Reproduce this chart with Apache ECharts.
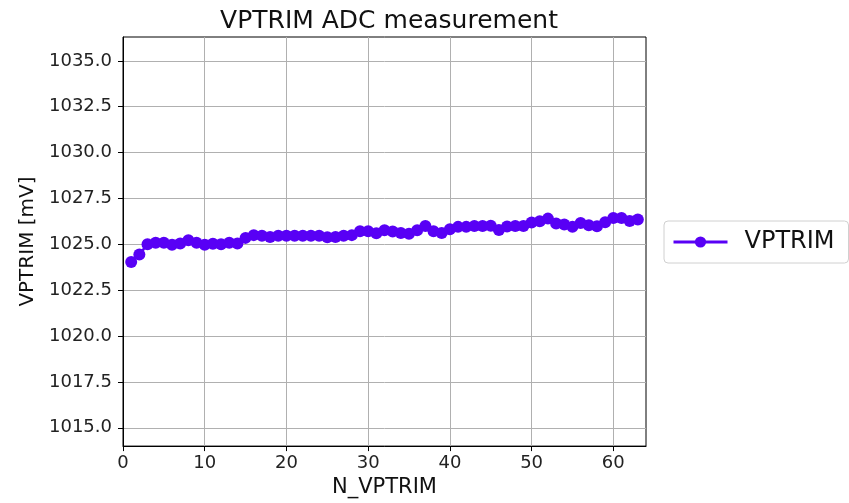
<!DOCTYPE html>
<html>
<head>
<meta charset="utf-8">
<script src="https://cdn.jsdelivr.net/npm/echarts@6/dist/echarts.min.js"></script>
<style>
  html, body { margin: 0; padding: 0; background: #fff; }
  #chart { width: 849px; height: 503px; }
</style>
</head>
<body>
<div id="chart"></div>
<script>
// N_VPTRIM codes and the measured VPTRIM voltage (mV)
const nVptrim = Array.from({ length: 63 }, (_, i) => i + 1);
const vptrim = [
  1024.04, 1024.45, 1025.00, 1025.08, 1025.08, 1024.97, 1025.05, 1025.22, 1025.08, 1024.97,
  1025.03, 1025.00, 1025.08, 1025.05, 1025.35, 1025.50, 1025.47, 1025.40, 1025.47, 1025.47,
  1025.47, 1025.47, 1025.47, 1025.47, 1025.39, 1025.40, 1025.47, 1025.50, 1025.71, 1025.71,
  1025.60, 1025.77, 1025.70, 1025.62, 1025.58, 1025.77, 1026.00, 1025.71, 1025.62, 1025.82,
  1025.95, 1025.95, 1026.00, 1026.00, 1026.01, 1025.78, 1025.97, 1026.00, 1026.00, 1026.19,
  1026.26, 1026.40, 1026.13, 1026.08, 1025.95, 1026.16, 1026.04, 1025.99, 1026.20, 1026.44,
  1026.44, 1026.27, 1026.35
];
const xTicks = [0, 10, 20, 30, 40, 50, 60];
const yTicks = [1015, 1017.5, 1020, 1022.5, 1025, 1027.5, 1030, 1032.5, 1035];

const font = 'DejaVu Sans';
const lineColor = '#5800f5';

const chart = echarts.init(document.getElementById('chart'), null, { renderer: 'canvas' });
chart.setOption({
  animation: false,
  backgroundColor: '#fff',
  textStyle: { fontFamily: font },
  title: {
    text: 'VPTRIM ADC measurement',
    left: 384, top: 4, textAlign: 'center',
    textStyle: { fontFamily: font, fontSize: 25, fontWeight: 'normal', color: '#111' }
  },
  legend: {
    left: 664, top: 221,
    orient: 'vertical',
    padding: [9, 14, 9, 8],
    borderColor: '#d0d0d0', borderWidth: 1, borderRadius: 4,
    itemWidth: 54, itemHeight: 14, itemGap: 10,
    lineStyle: { width: 3 },
    textStyle: { fontFamily: font, fontSize: 24, color: '#111', padding: [0, 0, 0, 12] },
    data: ['VPTRIM']
  },
  grid: {
    left: 123, right: 203, top: 37, bottom: 55,
    show: true, borderColor: '#000', borderWidth: 1, backgroundColor: 'transparent'
  },
  xAxis: {
    type: 'value', min: 0, max: 64,
    name: 'N_VPTRIM', nameLocation: 'middle', nameGap: 30,
    nameTextStyle: { fontFamily: font, fontSize: 21, color: '#111' },
    axisLine: { show: true, lineStyle: { color: '#000', width: 1 } },
    axisTick: { show: true, length: 5, customValues: xTicks, lineStyle: { color: '#000' } },
    axisLabel: { customValues: xTicks, fontFamily: font, fontSize: 18, color: '#222', margin: 8 },
    splitLine: { show: true, lineStyle: { color: '#b0b0b0', width: 1 } }
  },
  yAxis: {
    type: 'value', min: 1014.0, max: 1036.3,
    name: 'VPTRIM [mV]', nameLocation: 'middle', nameGap: 84, nameRotate: 90,
    nameTextStyle: { fontFamily: font, fontSize: 20, color: '#111' },
    axisLine: { show: true, lineStyle: { color: '#000', width: 1 } },
    axisTick: { show: true, length: 5, customValues: yTicks, lineStyle: { color: '#000' } },
    axisLabel: {
      customValues: yTicks, fontFamily: font, fontSize: 18, color: '#222', margin: 11,
      formatter: v => v.toFixed(1)
    },
    splitLine: { show: true, lineStyle: { color: '#b0b0b0', width: 1 } }
  },
  series: [{
    name: 'VPTRIM',
    type: 'line',
    data: nVptrim.map((n, i) => [n, vptrim[i]]),
    symbol: 'circle', symbolSize: 12,
    showAllSymbol: true,
    lineStyle: { color: lineColor, width: 2.5 },
    itemStyle: { color: lineColor },
    emphasis: { disabled: true }
  }]
});
</script>
</body>
</html>
